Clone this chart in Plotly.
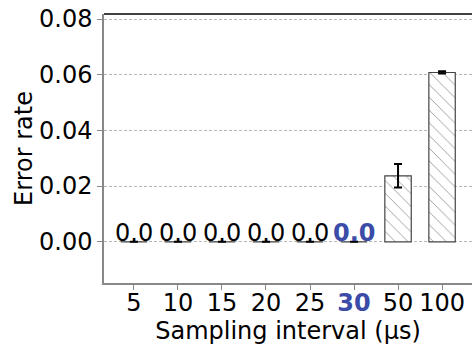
import plotly.graph_objects as go

categories = ["5", "10", "15", "20", "25", "30", "50", "100"]
error_rate = [0.0, 0.0, 0.0, 0.0, 0.0, 0.0, 0.0237, 0.0608]
error_std = [0.0, 0.0, 0.0, 0.0, 0.0, 0.0, 0.0042, 0.0004]
bar_labels = ["0.0", "0.0", "0.0", "0.0", "0.0", "<b>0.0</b>", "", ""]
y_ticks = [0.0, 0.02, 0.04, 0.06, 0.08]
y_tick_labels = ["0.00", "0.02", "0.04", "0.06", "0.08"]

BLUE = "#3B4BA8"
FS = 24
label_colors = ["black"] * 5 + [BLUE] + ["black", "black"]
x_tick_text = [f'<span style="color:{BLUE}"><b>{c}</b></span>' if c == "30" else c
               for c in categories]

fig = go.Figure()
fig.add_trace(go.Bar(
    x=categories,
    y=error_rate,
    width=0.6,
    marker=dict(
        color="white",
        line=dict(color="#444444", width=1.2),
        pattern=dict(shape="\\", fgcolor="#9a9a9a", bgcolor="white",
                     size=9, solidity=0.1, fillmode="replace"),
    ),
    error_y=dict(type="data", array=error_std, visible=True,
                 color="black", thickness=2, width=4),
    showlegend=False,
))

for i, (val, lab, col) in enumerate(zip(error_rate, bar_labels, label_colors)):
    if lab:
        fig.add_annotation(x=i, y=val, text=lab, showarrow=False,
                           xanchor="center", yanchor="bottom", yshift=-6,
                           borderpad=0,
                           font=dict(size=FS, color=col, family="DejaVu Sans"))

fig.update_xaxes(
    type="category",
    range=[-0.68, 7.68],
    tickmode="array",
    tickvals=categories,
    ticktext=x_tick_text,
    ticks="outside", ticklen=5, tickcolor="#888888", tickwidth=1.2,
    showline=True, linecolor="#888888", linewidth=1.5,
    showgrid=False, automargin=False,
    ticklabelstandoff=-8,
    tickfont=dict(size=FS, color="black"),
    title=dict(text="Sampling interval (μs)", font=dict(size=FS, color="black"), standoff=3),
)
fig.update_yaxes(
    range=[-0.0148, 0.0818],
    tickmode="array",
    tickvals=y_ticks,
    ticktext=y_tick_labels,
    ticks="outside", ticklen=5, tickcolor="#888888", tickwidth=1.2,
    showline=True, linecolor="#888888", linewidth=1.5,
    showgrid=True, gridcolor="#b8b8b8", griddash="3px,2px", gridwidth=1,
    zeroline=False, automargin=False,
    tickfont=dict(size=FS, color="black"),
    title=dict(text="Error rate", font=dict(size=FS, color="black"), standoff=0),
)
fig.add_shape(type="line", xref="paper", yref="paper", x0=0, x1=1, y0=1, y1=1,
              line=dict(color="black", width=1.5))

fig.update_layout(
    width=472, height=347,
    margin=dict(l=104, r=0, t=14, b=64),
    paper_bgcolor="white", plot_bgcolor="white",
    font=dict(family="DejaVu Sans", size=FS, color="black"),
)

fig.write_html("out.html")
